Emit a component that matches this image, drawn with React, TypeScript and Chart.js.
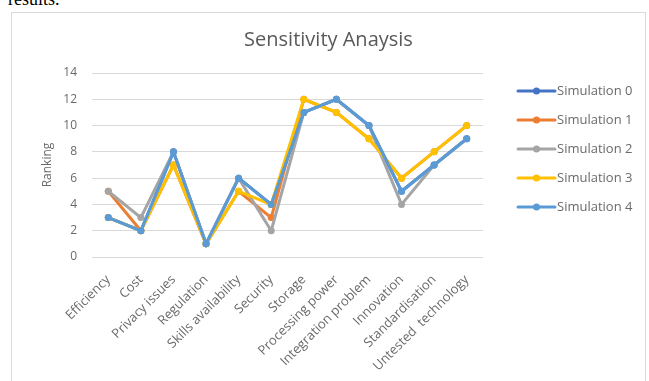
import React, { useEffect, useRef } from "react";
import { Chart, registerables } from "chart.js";

Chart.register(...registerables);

const categories = [
  "Efficiency",
  "Cost",
  "Privacy issues",
  "Regulation",
  "Skills availability",
  "Security",
  "Storage",
  "Processing power",
  "Integration problem",
  "Innovation",
  "Standardisation",
  "Untested  technology",
];

const seriesNames = ["Simulation 0", "Simulation 1", "Simulation 2", "Simulation 3", "Simulation 4"];
const sim0 = [3, 2, 8, 1, 6, 4, 11, 12, 10, 5, 7, 9];
const sim1 = [5, 2, 7, 1, 5, 3, 12, 11, 9, 6, 8, 10];
const sim2 = [5, 3, 8, 1, 6, 2, 11, 12, 10, 4, 7, 9];
const sim3 = [3, 2, 7, 1, 5, 4, 12, 11, 9, 6, 8, 10];
const sim4 = [3, 2, 8, 1, 6, 4, 11, 12, 10, 5, 7, 9];
const seriesColors = ["#4472C4", "#ED7D31", "#A5A5A5", "#FFC000", "#5B9BD5"];
const yTicks = [0, 2, 4, 6, 8, 10, 12, 14];

const TEXT = "#6a6a6a";
const FONT = "'Open Sans', 'DejaVu Sans', sans-serif";

const sideLegend = {
  id: "sideLegend",
  afterDraw(chart: any) {
    const ctx = chart.ctx;
    const x0 = 506;
    const x1 = 543;
    chart.data.datasets.forEach((ds: any, i: number) => {
      const y = 78 + i * 29;
      ctx.save();
      ctx.strokeStyle = ds.borderColor;
      ctx.lineWidth = 3;
      ctx.lineCap = "round";
      ctx.beginPath();
      ctx.moveTo(x0, y);
      ctx.lineTo(x1, y);
      ctx.stroke();
      ctx.fillStyle = ds.borderColor;
      ctx.beginPath();
      ctx.arc((x0 + x1) / 2, y, 3.5, 0, Math.PI * 2);
      ctx.fill();
      ctx.fillStyle = TEXT;
      ctx.font = `13px ${FONT}`;
      ctx.textBaseline = "middle";
      ctx.textAlign = "left";
      ctx.fillText(ds.label, x1 + 2, y);
      ctx.restore();
    });
  },
};

export default function App() {
  const ref = useRef<HTMLCanvasElement | null>(null);

  useEffect(() => {
    if (!ref.current) return;
    const all = [sim0, sim1, sim2, sim3, sim4];
    const chart = new Chart(ref.current, {
      type: "line",
      data: {
        labels: categories,
        datasets: all.map((d, i) => ({
          label: seriesNames[i],
          data: d,
          borderColor: seriesColors[i],
          backgroundColor: seriesColors[i],
          borderWidth: 3,
          pointRadius: 3.5,
          pointHoverRadius: 3.5,
          pointBorderWidth: 0,
          tension: 0,
          order: 4 - i,
          yAxisID: "y",
        })),
      },
      options: {
        animation: false,
        responsive: false,
        maintainAspectRatio: false,
        layout: { padding: 0 },
        plugins: {
          legend: { display: false },
          tooltip: { enabled: false },
          title: {
            display: true,
            text: "Sensitivity Anaysis",
            color: "#595959",
            font: { family: FONT, size: 20, weight: "normal" },
            padding: { top: 15, bottom: 21 },
          },
        },
        scales: {
          x: {
            offset: true,
            grid: { display: false, drawTicks: false },
            border: { display: false },
            ticks: {
              autoSkip: false,
              minRotation: 45,
              maxRotation: 45,
              padding: 15,
              color: TEXT,
              font: { family: FONT, size: 13 },
            },
            afterFit: (s: any) => {
              s.height = 124;
            },
          },
          y: {
            min: 0,
            max: 14,
            afterBuildTicks: (s: any) => {
              s.ticks = yTicks.map((v) => ({ value: v }));
            },
            grid: { color: "#d9d9d9", lineWidth: 1, drawTicks: false },
            border: { display: false },
            ticks: {
              padding: 15,
              color: TEXT,
              font: { family: FONT, size: 12 },
            },
            title: {
              display: true,
              text: "Ranking",
              color: TEXT,
              font: { family: FONT, size: 12 },
              padding: { top: 28, bottom: 0 },
            },
            afterFit: (s: any) => {
              s.width = 80;
            },
          },
          legendSpace: {
            position: "right",
            min: 0,
            max: 14,
            grid: { display: false, drawTicks: false },
            border: { display: false },
            ticks: { display: false },
            afterFit: (s: any) => {
              s.width = 162;
            },
          },
        },
      },
      plugins: [sideLegend],
    });
    return () => chart.destroy();
  }, []);

  return (
    <div style={{ position: "absolute", left: 0, top: 0, width: 649, height: 381, overflow: "hidden", background: "#fff" }}>
      <div style={{ position: "absolute", left: 8, top: -11, fontFamily: "'Liberation Serif', serif", fontSize: 18, color: "#000" }}>
        results.
      </div>
      <div
        style={{
          position: "absolute",
          left: 11,
          top: 12,
          width: 633,
          height: 380,
          border: "1px solid #d9d9d9",
          background: "#fff",
        }}
      >
        <canvas ref={ref} width={633} height={368} style={{ display: "block", width: 633, height: 368 }} />
      </div>
    </div>
  );
}
